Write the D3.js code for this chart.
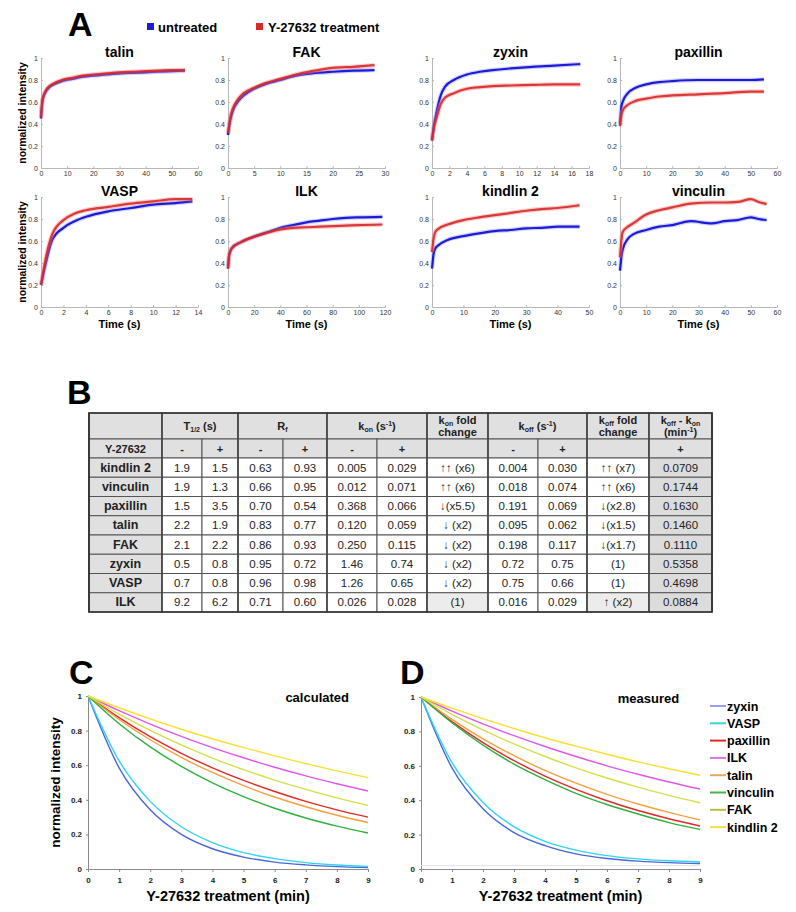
<!DOCTYPE html>
<html>
<head>
<meta charset="utf-8">
<script src="https://cdn.jsdelivr.net/npm/d3@7"></script>
<style>
	body { margin: 0; background: #fff; }
	svg { font-family: "Liberation Sans", Arial, sans-serif; }
</style>
</head>
<body>
<svg id="fig" width="796" height="912"></svg>
<script>
// ---- panel A : FRAP recovery, time (s) / normalized intensity ----
const talinT    = [0, 0.5, 1, 2, 3, 5, 8, 12, 16, 20, 25, 30, 35, 40, 45, 50, 55];
const talinBlue = [0.45, 0.60, 0.65, 0.70, 0.73, 0.76, 0.79, 0.81, 0.83, 0.84, 0.85, 0.86, 0.865, 0.87, 0.875, 0.88, 0.885];
const talinRed  = [0.46, 0.61, 0.66, 0.71, 0.74, 0.77, 0.80, 0.82, 0.84, 0.85, 0.86, 0.87, 0.875, 0.88, 0.885, 0.89, 0.89];

const fakT    = [0, 0.5, 1, 2, 3, 5, 7, 10, 13, 16, 20, 24, 28];
const fakBlue = [0.30, 0.45, 0.53, 0.61, 0.66, 0.72, 0.76, 0.80, 0.84, 0.86, 0.875, 0.885, 0.89];
const fakRed  = [0.32, 0.47, 0.55, 0.63, 0.68, 0.73, 0.77, 0.81, 0.85, 0.88, 0.91, 0.92, 0.935];

const zyxinT    = [0, 0.25, 0.5, 1, 1.5, 2.5, 4, 5.5, 7, 9, 11.5, 14, 17];
const zyxinBlue = [0.25, 0.40, 0.50, 0.66, 0.74, 0.80, 0.85, 0.875, 0.89, 0.905, 0.92, 0.93, 0.945];
const zyxinRed  = [0.25, 0.38, 0.45, 0.58, 0.64, 0.68, 0.72, 0.735, 0.745, 0.75, 0.755, 0.76, 0.76];

const paxT    = [0, 0.5, 1, 3, 6, 10, 15, 20, 30, 40, 50, 55];
const paxBlue = [0.40, 0.55, 0.60, 0.68, 0.73, 0.76, 0.78, 0.79, 0.80, 0.80, 0.80, 0.805];
const paxRed  = [0.38, 0.48, 0.52, 0.575, 0.61, 0.63, 0.65, 0.66, 0.67, 0.68, 0.695, 0.695];

const vaspT    = [0, 0.5, 1, 2, 3, 4, 6, 8, 10, 12, 13.5];
const vaspBlue = [0.20, 0.43, 0.61, 0.72, 0.78, 0.82, 0.87, 0.90, 0.93, 0.945, 0.96];
const vaspRed  = [0.20, 0.48, 0.66, 0.79, 0.85, 0.88, 0.91, 0.94, 0.96, 0.98, 0.98];

const ilkT    = [0, 1, 3, 10, 20, 30, 40, 50, 60, 70, 80, 90, 100, 118];
const ilkBlue = [0.35, 0.48, 0.535, 0.59, 0.64, 0.68, 0.72, 0.745, 0.77, 0.785, 0.80, 0.81, 0.815, 0.82];
const ilkRed  = [0.35, 0.48, 0.535, 0.59, 0.64, 0.675, 0.705, 0.72, 0.725, 0.73, 0.735, 0.74, 0.745, 0.75];

const kindT    = [0, 0.5, 1, 2, 5, 10, 15, 20, 25, 30, 35, 40, 47];
const kindBlue = [0.35, 0.48, 0.53, 0.56, 0.61, 0.645, 0.67, 0.69, 0.70, 0.715, 0.72, 0.73, 0.73];
const kindRed  = [0.50, 0.62, 0.68, 0.71, 0.75, 0.79, 0.815, 0.835, 0.855, 0.875, 0.89, 0.90, 0.925];

const vincT    = [0, 0.5, 1, 3, 5, 10, 15, 20, 27, 35, 40, 45, 50, 53, 56];
const vincBlue = [0.33, 0.45, 0.52, 0.62, 0.66, 0.70, 0.73, 0.745, 0.78, 0.76, 0.78, 0.79, 0.815, 0.80, 0.79];
const vincRed  = [0.45, 0.60, 0.68, 0.73, 0.76, 0.84, 0.88, 0.905, 0.94, 0.95, 0.95, 0.955, 0.98, 0.955, 0.935];

const yTicksA = [0, 0.2, 0.4, 0.6, 0.8, 1];

// ---- panel B : table ----
const proteins  = ["kindlin 2", "vinculin", "paxillin", "talin", "FAK", "zyxin", "VASP", "ILK"];
const t12Minus  = ["1.9", "1.9", "1.5", "2.2", "2.1", "0.5", "0.7", "9.2"];
const t12Plus   = ["1.5", "1.3", "3.5", "1.9", "2.2", "0.8", "0.8", "6.2"];
const rfMinus   = ["0.63", "0.66", "0.70", "0.83", "0.86", "0.95", "0.96", "0.71"];
const rfPlus    = ["0.93", "0.95", "0.54", "0.77", "0.93", "0.72", "0.98", "0.60"];
const konMinus  = ["0.005", "0.012", "0.368", "0.120", "0.250", "1.46", "1.26", "0.026"];
const konPlus   = ["0.029", "0.071", "0.066", "0.059", "0.115", "0.74", "0.65", "0.028"];
const konFold   = ["↑↑ (x6)", "↑↑ (x6)", "↓(x5.5)", "↓ (x2)", "↓ (x2)", "↓ (x2)", "↓ (x2)", "(1)"];
const koffMinus = ["0.004", "0.018", "0.191", "0.095", "0.198", "0.72", "0.75", "0.016"];
const koffPlus  = ["0.030", "0.074", "0.069", "0.062", "0.117", "0.75", "0.66", "0.029"];
const koffFold  = ["↑↑ (x7)", "↑↑ (x6)", "↓(x2.8)", "↓(x1.5)", "↓(x1.7)", "(1)", "(1)", "↑ (x2)"];
const koffKon   = ["0.0709", "0.1744", "0.1630", "0.1460", "0.1110", "0.5358", "0.4698", "0.0884"];

// ---- panels C, D : decay over Y-27632 treatment (min) ----
const minutes = [0, 1, 2, 3, 4, 5, 6, 7, 8, 9];
const decayNames = ["zyxin", "VASP", "paxillin", "ILK", "talin", "vinculin", "FAK", "kindlin 2"];
const calcZyxin = [1, 0.585, 0.342, 0.200, 0.117, 0.069, 0.040, 0.024, 0.014, 0.008];
const calcVasp  = [1, 0.625, 0.391, 0.244, 0.153, 0.095, 0.060, 0.037, 0.023, 0.015];
const calcPax   = [1, 0.875, 0.765, 0.669, 0.585, 0.512, 0.448, 0.391, 0.342, 0.300];
const calcIlk   = [1, 0.915, 0.838, 0.767, 0.702, 0.643, 0.588, 0.538, 0.493, 0.451];
const calcTalin = [1, 0.864, 0.747, 0.645, 0.558, 0.482, 0.416, 0.360, 0.311, 0.269];
const calcVinc  = [1, 0.840, 0.706, 0.593, 0.498, 0.418, 0.351, 0.295, 0.248, 0.208];
const calcFak   = [1, 0.895, 0.801, 0.717, 0.641, 0.574, 0.514, 0.460, 0.411, 0.368];
const calcKind  = [1, 0.932, 0.868, 0.808, 0.753, 0.702, 0.654, 0.609, 0.567, 0.528];

const measZyxin = [1, 0.588, 0.350, 0.212, 0.136, 0.088, 0.061, 0.046, 0.037, 0.032];
const measVasp  = [1, 0.618, 0.387, 0.246, 0.161, 0.110, 0.078, 0.059, 0.048, 0.041];
const measPax   = [1, 0.857, 0.735, 0.630, 0.540, 0.463, 0.397, 0.340, 0.292, 0.250];
const measIlk   = [1, 0.918, 0.844, 0.775, 0.712, 0.654, 0.600, 0.551, 0.506, 0.465];
const measTalin = [1, 0.870, 0.757, 0.659, 0.573, 0.499, 0.434, 0.378, 0.329, 0.286];
const measVinc  = [1, 0.850, 0.720, 0.610, 0.520, 0.440, 0.375, 0.320, 0.270, 0.230];
const measFak   = [1, 0.899, 0.809, 0.727, 0.654, 0.588, 0.529, 0.476, 0.428, 0.385];
const measKind  = [1, 0.935, 0.874, 0.817, 0.763, 0.714, 0.667, 0.623, 0.583, 0.545];
const measFloor = 0.02;

const yTicksCD = [0, 0.2, 0.4, 0.6, 0.8, 1];

const svg = d3.select("#fig");
const BLUE = "#1c1cd8", RED = "#d82828";

// panel letters
const letter = (txt, x, y) => svg.append("text").attr("x", x).attr("y", y)
	.attr("font-size", 34).attr("font-weight", "bold").text(txt);
letter("A", 68, 36);
letter("B", 67, 404);
letter("C", 69, 684);
letter("D", 400, 684);

// legend A
svg.append("rect").attr("x", 147).attr("y", 23).attr("width", 7).attr("height", 7).attr("fill", BLUE);
svg.append("text").attr("x", 158).attr("y", 32).attr("font-size", 13).attr("font-weight", "bold").text("untreated");
svg.append("rect").attr("x", 256).attr("y", 23).attr("width", 7).attr("height", 7).attr("fill", RED);
svg.append("text").attr("x", 268).attr("y", 32).attr("font-size", 13).attr("font-weight", "bold").text("Y-27632 treatment");

// ---------- Panel A ----------
const frapPlots = [
	{name: "talin", t: talinT, b: talinBlue, r: talinRed, xmax: 60, step: 10, left: 41, top: 58},
	{name: "FAK", t: fakT, b: fakBlue, r: fakRed, xmax: 30, step: 5, left: 228, top: 58},
	{name: "zyxin", t: zyxinT, b: zyxinBlue, r: zyxinRed, xmax: 18, step: 2, left: 432, top: 58},
	{name: "paxillin", t: paxT, b: paxBlue, r: paxRed, xmax: 60, step: 10, left: 620, top: 58},
	{name: "VASP", t: vaspT, b: vaspBlue, r: vaspRed, xmax: 14, step: 2, left: 41, top: 197},
	{name: "ILK", t: ilkT, b: ilkBlue, r: ilkRed, xmax: 120, step: 20, left: 228, top: 197},
	{name: "kindlin 2", t: kindT, b: kindBlue, r: kindRed, xmax: 50, step: 10, left: 432, top: 197},
	{name: "vinculin", t: vincT, b: vincBlue, r: vincRed, xmax: 60, step: 10, left: 620, top: 197}
];

frapPlots.forEach((p, i) => {
	const w = 157, h = 110;
	const g = svg.append("g").attr("transform", "translate(" + p.left + "," + p.top + ")");
	const x = d3.scaleLinear().domain([0, p.xmax]).range([0, w]);
	const y = d3.scaleLinear().domain([0, 1]).range([h, 0]);

	const xa = g.append("g").attr("transform", "translate(0," + h + ")")
		.call(d3.axisBottom(x).tickValues(d3.range(0, p.xmax + p.step / 2, p.step)).tickSize(-2).tickPadding(3).tickFormat(d3.format("d")));
	const ya = g.append("g")
		.call(d3.axisLeft(y).tickValues(yTicksA).tickSize(-2).tickPadding(3).tickFormat(d => d === 0 || d === 1 ? d : d.toFixed(1)));
	[xa, ya].forEach(a => {
		a.select(".domain").attr("stroke", "#b8b8b8");
		a.selectAll(".tick line").attr("stroke", "#b8b8b8");
		a.selectAll(".tick text").attr("font-size", 7).attr("fill", "#333").attr("font-family", "Liberation Sans, Arial, sans-serif");
	});

	const line = (vals) => d3.line().curve(d3.curveMonotoneX)
		.x((d, k) => x(p.t[k])).y(d => y(d))(vals);

	// faint halo suggesting the scatter of the measured points
	g.append("path").attr("d", line(p.b)).attr("fill", "none").attr("stroke", "#8080f0").attr("stroke-width", 4.5).attr("stroke-opacity", 0.35);
	g.append("path").attr("d", line(p.b)).attr("fill", "none").attr("stroke", BLUE).attr("stroke-width", 2.2);
	g.append("path").attr("d", line(p.r)).attr("fill", "none").attr("stroke", "#f08080").attr("stroke-width", 4.5).attr("stroke-opacity", 0.4);
	g.append("path").attr("d", line(p.r)).attr("fill", "none").attr("stroke", RED).attr("stroke-width", 2.2).attr("stroke-opacity", 0.9);

	g.append("text").attr("x", w / 2).attr("y", -1).attr("text-anchor", "middle")
		.attr("font-size", 14).attr("font-weight", "bold").text(p.name);

	if (i % 4 === 0) {
		g.append("text").attr("transform", "translate(-15," + (h / 2) + ") rotate(-90)")
			.attr("text-anchor", "middle").attr("font-size", 10.5).attr("font-weight", "bold").text("normalized intensity");
	}
	if (i >= 4) {
		g.append("text").attr("x", w / 2).attr("y", h + 21).attr("text-anchor", "middle")
			.attr("font-size", 11).attr("font-weight", "bold").text("Time (s)");
	}
});

// ---------- Panel B : table ----------
const colX = [89, 162, 202, 238, 283, 327, 377, 427, 488, 538, 587, 649, 712];
const rowY = [413, 439, 458].concat(d3.range(1, 9).map(k => 458 + k * 19.25));
const tbl = svg.append("g").attr("font-size", 11);
const HEAD = "#e0e0e0";

const cell = (c0, c1, r0, r1, fill) => tbl.append("rect")
	.attr("x", colX[c0]).attr("y", rowY[r0]).attr("width", colX[c1] - colX[c0]).attr("height", rowY[r1] - rowY[r0])
	.attr("fill", fill).attr("stroke", "#555").attr("stroke-width", 1);
const ctext = (c0, c1, r, txt, opts = {}) => {
	const t = tbl.append("text").attr("x", (colX[c0] + colX[c1]) / 2).attr("y", (rowY[r] + rowY[r + 1]) / 2 + 4)
		.attr("text-anchor", "middle").attr("fill", "#222");
	if (opts.bold) t.attr("font-weight", "bold");
	if (opts.size) t.attr("font-size", opts.size);
	t.text(txt);
	return t;
};

// header row 1
[[0, 1], [1, 3], [3, 5], [5, 7], [7, 8], [8, 10], [10, 11], [11, 12]].forEach(s => cell(s[0], s[1], 0, 1, HEAD));
// header row 2
d3.range(12).forEach(c => cell(c, c + 1, 1, 2, HEAD));

const subHead = (c0, c1, main, sub, tail, sup, tail2) => {
	const t = tbl.append("text").attr("x", (colX[c0] + colX[c1]) / 2).attr("y", rowY[0] + 17)
		.attr("text-anchor", "middle").attr("font-weight", "bold").attr("fill", "#222");
	t.append("tspan").text(main);
	t.append("tspan").attr("font-size", 7).attr("dy", 2).text(sub);
	t.append("tspan").attr("dy", -2).text(tail);
	if (sup) {
		t.append("tspan").attr("font-size", 7).attr("dy", -4).text(sup);
		t.append("tspan").attr("dy", 4).text(tail2);
	}
};
subHead(1, 3, "T", "1/2", " (s)");
subHead(3, 5, "R", "f", "");
subHead(5, 7, "k", "on", " (s", "-1", ")");
subHead(8, 10, "k", "off", " (s", "-1", ")");

const twoLine = (c, l1, l2) => {
	const cx = (colX[c] + colX[c + 1]) / 2;
	const t1 = tbl.append("text").attr("x", cx).attr("y", rowY[0] + 11).attr("text-anchor", "middle").attr("font-weight", "bold").attr("fill", "#222");
	l1(t1);
	const t2 = tbl.append("text").attr("x", cx).attr("y", rowY[0] + 23).attr("text-anchor", "middle").attr("font-weight", "bold").attr("fill", "#222");
	l2(t2);
};
twoLine(7, t => { t.append("tspan").text("k"); t.append("tspan").attr("font-size", 7).attr("dy", 2).text("on"); t.append("tspan").attr("dy", -2).text(" fold"); },
	t => t.text("change"));
twoLine(10, t => { t.append("tspan").text("k"); t.append("tspan").attr("font-size", 7).attr("dy", 2).text("off"); t.append("tspan").attr("dy", -2).text(" fold"); },
	t => t.text("change"));
twoLine(11, t => {
		t.append("tspan").text("k"); t.append("tspan").attr("font-size", 7).attr("dy", 2).text("off");
		t.append("tspan").attr("dy", -2).text(" - k"); t.append("tspan").attr("font-size", 7).attr("dy", 2).text("on");
	},
	t => { t.append("tspan").text("(min"); t.append("tspan").attr("font-size", 7).attr("dy", -4).text("-1"); t.append("tspan").attr("dy", 4).text(")"); });

ctext(0, 1, 1, "Y-27632", {bold: true});
const signs = ["-", "+", "-", "+", "-", "+", "", "-", "+", "", "+"];
signs.forEach((s, k) => ctext(k + 1, k + 2, 1, s, {bold: true}));

const columns = [t12Minus, t12Plus, rfMinus, rfPlus, konMinus, konPlus, konFold, koffMinus, koffPlus, koffFold, koffKon];
proteins.forEach((name, r) => {
	const row = r + 2;
	cell(0, 1, row, row + 1, HEAD);
	ctext(0, 1, row, name, {bold: true, size: 12.5});
	columns.forEach((col, c) => {
		let fill = "#fff";
		if (c === 10) fill = "#dcdcdc";
		if ((c === 6 || c === 9) && name === "ILK") fill = "#ececec";
		cell(c + 1, c + 2, row, row + 1, fill);
		ctext(c + 1, c + 2, row, col[r], {size: 11.5});
	});
});
// heavier group dividers
[89, 162, 238, 327, 427, 488, 587, 649, 712].forEach(xv => tbl.append("line")
	.attr("x1", xv).attr("x2", xv).attr("y1", 413).attr("y2", rowY[rowY.length - 1]).attr("stroke", "#444").attr("stroke-width", 1.6));
tbl.append("rect").attr("x", 89).attr("y", 413).attr("width", 712 - 89).attr("height", rowY[rowY.length - 1] - 413)
	.attr("fill", "none").attr("stroke", "#333").attr("stroke-width", 1.6);

// ---------- Panels C, D ----------
const decayColors = ["#4a68d8", "#30d4ee", "#e02828", "#e058e6", "#f2a040", "#30b040", "#d2e048", "#f8e030"];
const legendColors = ["#9a9cf0", "#30d8e8", "#e02828", "#e070e8", "#e8a860", "#40b848", "#b8c038", "#f0e040"];

function decayPanel(left, top, w, h, series, label, yLabel, floor) {
	const g = svg.append("g").attr("transform", "translate(" + left + "," + top + ")");
	const x = d3.scaleLinear().domain([0, 9]).range([0, w]);
	const y = d3.scaleLinear().domain([0, 1]).range([h, 0]);

	const xa = g.append("g").attr("transform", "translate(0," + h + ")")
		.call(d3.axisBottom(x).tickValues(minutes).tickSize(3).tickPadding(5));
	const ya = g.append("g")
		.call(d3.axisLeft(y).tickValues(yTicksCD).tickSize(2).tickPadding(4).tickFormat(d => d === 0 || d === 1 ? d : d.toFixed(1)));
	[xa, ya].forEach(a => {
		a.select(".domain").attr("stroke", "#8a8a8a");
		a.selectAll(".tick line").attr("stroke", "#8a8a8a");
		a.selectAll(".tick text").attr("font-size", 8).attr("font-weight", "bold").attr("fill", "#222")
			.attr("font-family", "Liberation Sans, Arial, sans-serif");
	});

	if (floor != null) {
		g.append("line").attr("x1", 0).attr("x2", w).attr("y1", y(floor)).attr("y2", y(floor))
			.attr("stroke", "#e4e4e4").attr("stroke-width", 1);
	}

	const line = d3.line().curve(d3.curveMonotoneX).x((d, k) => x(minutes[k])).y(d => y(d));
	series.forEach((s, k) => {
		g.append("path").attr("d", line(s)).attr("fill", "none")
			.attr("stroke", decayColors[k]).attr("stroke-width", 1.4);
	});

	g.append("text").attr("x", w * 0.705).attr("y", 6).attr("font-size", 13).attr("font-weight", "bold").text(label);
	g.append("text").attr("x", w / 2).attr("y", h + 32).attr("text-anchor", "middle")
		.attr("font-size", 14.5).attr("font-weight", "bold").text("Y-27632 treatment (min)");
	if (yLabel) {
		g.append("text").attr("transform", "translate(-28," + (h / 2) + ") rotate(-90)")
			.attr("text-anchor", "middle").attr("font-size", 13.5).attr("font-weight", "bold").text(yLabel);
	}
}

decayPanel(88, 696, 280, 173,
	[calcZyxin, calcVasp, calcPax, calcIlk, calcTalin, calcVinc, calcFak, calcKind], "calculated", "normalized intensity", null);
decayPanel(421, 697, 279, 172,
	[measZyxin, measVasp, measPax, measIlk, measTalin, measVinc, measFak, measKind], "measured", null, measFloor);

// legend D
const leg = svg.append("g").attr("transform", "translate(710,706)");
decayNames.forEach((n, k) => {
	const yy = k * 17.3;
	leg.append("line").attr("x1", 0).attr("x2", 16).attr("y1", yy).attr("y2", yy)
		.attr("stroke", legendColors[k]).attr("stroke-width", 2);
	leg.append("text").attr("x", 17).attr("y", yy + 4.5).attr("font-size", 12.5).attr("font-weight", "bold").text(n);
});
</script>
</body>
</html>
